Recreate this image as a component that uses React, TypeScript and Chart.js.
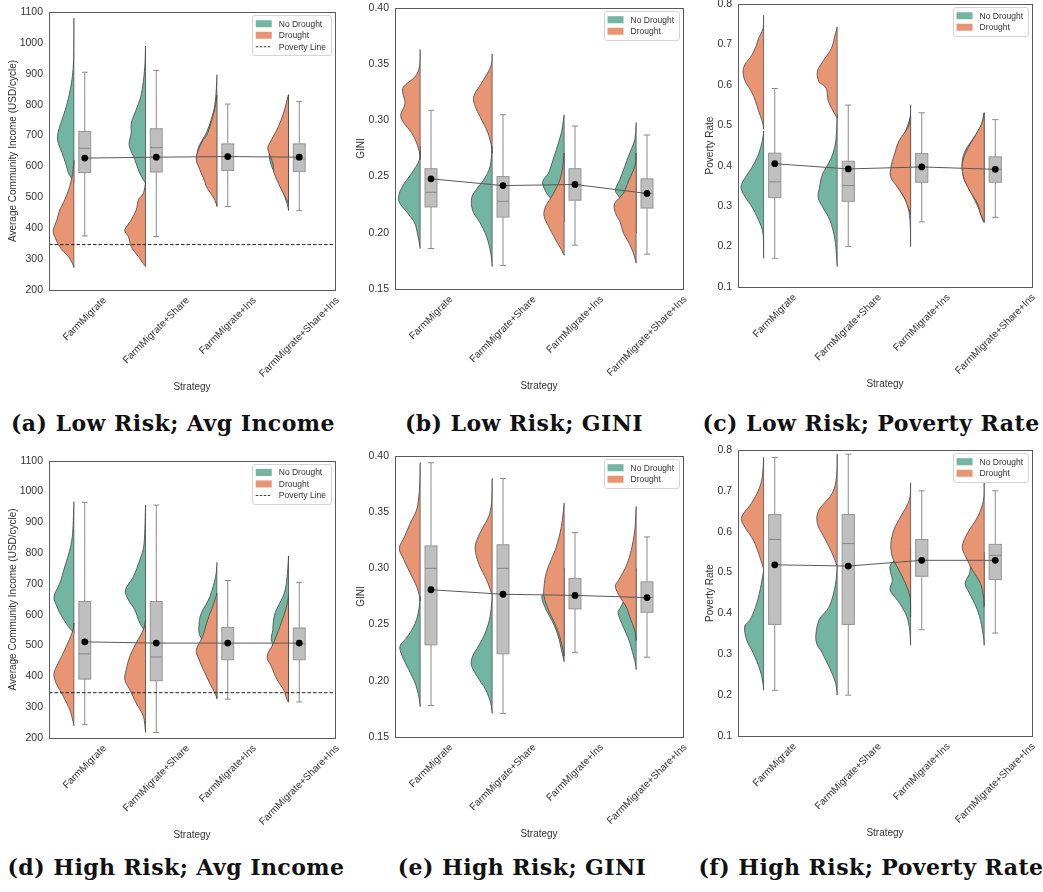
import React, { useEffect, useRef } from "react";
import { Chart, registerables } from "chart.js";

Chart.register(...registerables);

// ---------------- DATA ----------------
const strategies = ["FarmMigrate", "FarmMigrate+Share", "FarmMigrate+Ins", "FarmMigrate+Share+Ins"];
const legendLabels = ["No Drought", "Drought", "Poverty Line"];
const xTitle = "Strategy";
const povertyLine = 347;
const captions = [
  "(a) Low Risk; Avg Income",
  "(b) Low Risk; GINI",
  "(c) Low Risk; Poverty Rate",
  "(d) High Risk; Avg Income",
  "(e) High Risk; GINI",
  "(f) High Risk; Poverty Rate",
];

// Violin halves: [value, half-width in % of a category slot], top to bottom
const lowIncomeNoDrought = [
  [[1080, 0], [950, 0.5], [880, 3], [820, 8], [770, 14], [730, 20], [700, 23], [675, 22], [645, 17], [612, 12], [580, 8], [560, 3], [548, 0]],
  [[990, 0], [924, 1], [859, 4], [816, 8], [773, 15], [740, 20], [708, 20], [676, 23], [654, 21], [622, 15], [578, 8], [546, 0]],
  [[897, 0], [850, 1], [800, 3], [760, 7], [720, 13], [700, 17], [680, 22], [662, 26], [640, 28], [620, 28], [600, 25], [570, 20], [540, 14], [510, 6], [485, 1], [472, 0]],
  [[832, 0], [780, 5], [730, 13], [690, 21], [665, 26], [635, 27], [610, 25], [580, 20], [540, 12], [500, 5], [470, 1], [457, 0]],
];
const lowIncomeDrought = [
  [[620, 0], [578, 2], [535, 6], [492, 13], [459, 20], [427, 24], [394, 29], [373, 27], [340, 20], [308, 8], [285, 2], [272, 0]],
  [[548, 0], [513, 3], [492, 10], [459, 13], [427, 20], [394, 29], [373, 24], [340, 20], [308, 10], [285, 3], [276, 0]],
  [[830, 0], [800, 2], [762, 6], [708, 13], [687, 19], [665, 24], [640, 28], [621, 29], [600, 26], [578, 22], [550, 17], [535, 15], [503, 6], [485, 2], [470, 0]],
  [[832, 0], [816, 2], [773, 7], [730, 14], [686, 24], [662, 29], [643, 27], [611, 22], [578, 20], [535, 12], [503, 5], [481, 0]],
];
// Box stats: [whisker low, Q1, median, Q3, whisker high]
const lowIncomeBox = [[375, 580, 659, 713, 905], [373, 582, 661, 722, 911], [470, 587, 632, 673, 802], [457, 584, 624, 673, 810]];
const lowIncomeMean = [627, 630, 632, 630];

const lowGiniNoDrought = [
  [[0.277, 0], [0.265, 1], [0.253, 12], [0.243, 23], [0.235, 29], [0.227, 29], [0.218, 18], [0.209, 8], [0.2, 4], [0.19, 1], [0.186, 0]],
  [[0.277, 0], [0.259, 3], [0.247, 12], [0.235, 26], [0.227, 29], [0.218, 26], [0.209, 17], [0.197, 8], [0.182, 2], [0.17, 0]],
  [[0.305, 0], [0.289, 4], [0.274, 11], [0.262, 17], [0.253, 22], [0.245, 30], [0.235, 24], [0.228, 15], [0.22, 5], [0.21, 0]],
  [[0.298, 0], [0.283, 2], [0.271, 9], [0.259, 16], [0.247, 23], [0.238, 29], [0.232, 24], [0.22, 15], [0.21, 6], [0.2, 0]],
];
const lowGiniDrought = [
  [[0.363, 0], [0.348, 1], [0.339, 7], [0.33, 23], [0.324, 24], [0.315, 21], [0.305, 27], [0.298, 23], [0.289, 12], [0.28, 5], [0.271, 1], [0.265, 0]],
  [[0.359, 0], [0.348, 2], [0.333, 15], [0.324, 24], [0.318, 26], [0.31, 22], [0.301, 15], [0.289, 6], [0.277, 1], [0.271, 0]],
  [[0.271, 0], [0.259, 2], [0.247, 6], [0.235, 15], [0.223, 26], [0.215, 28], [0.206, 22], [0.194, 12], [0.185, 4], [0.18, 0]],
  [[0.271, 0], [0.259, 2], [0.247, 10], [0.235, 18], [0.226, 30], [0.218, 29], [0.209, 22], [0.2, 18], [0.191, 10], [0.182, 4], [0.173, 0]],
];
const lowGiniBox = [[0.186, 0.223, 0.236, 0.257, 0.309], [0.171, 0.214, 0.228, 0.25, 0.305], [0.189, 0.229, 0.243, 0.257, 0.295], [0.181, 0.222, 0.235, 0.248, 0.287]];
const lowGiniMean = [0.248, 0.242, 0.243, 0.235];

const lowPovertyNoDrought = [
  [[0.486, 0], [0.461, 2], [0.429, 7], [0.396, 16], [0.371, 25], [0.347, 31], [0.322, 25], [0.298, 16], [0.265, 7], [0.232, 1], [0.171, 0]],
  [[0.527, 0], [0.461, 2], [0.42, 8], [0.379, 20], [0.347, 24], [0.322, 26], [0.298, 20], [0.265, 10], [0.216, 3], [0.151, 0]],
  [[0.551, 0], [0.518, 1], [0.478, 9], [0.453, 17], [0.429, 21], [0.396, 26], [0.371, 25], [0.339, 15], [0.306, 5], [0.265, 1], [0.2, 0]],
  [[0.531, 0], [0.5, 4], [0.47, 14], [0.44, 25], [0.41, 30], [0.37, 28], [0.34, 20], [0.3, 9], [0.27, 3], [0.259, 0]],
];
const lowPovertyDrought = [
  [[0.772, 0], [0.739, 1], [0.715, 7], [0.698, 10], [0.674, 16], [0.649, 26], [0.629, 28], [0.608, 25], [0.584, 17], [0.559, 11], [0.535, 7], [0.51, 2], [0.49, 0]],
  [[0.743, 0], [0.723, 3], [0.69, 8], [0.657, 20], [0.633, 27], [0.608, 25], [0.592, 15], [0.559, 12], [0.527, 3], [0.518, 0]],
  [[0.523, 0], [0.494, 4], [0.461, 16], [0.429, 22], [0.396, 27], [0.371, 27], [0.347, 18], [0.322, 9], [0.298, 4], [0.281, 0]],
  [[0.531, 0], [0.502, 4], [0.469, 14], [0.437, 24], [0.404, 30], [0.371, 28], [0.339, 20], [0.306, 9], [0.281, 5], [0.261, 0]],
];
const lowPovertyBox = [[0.171, 0.321, 0.36, 0.431, 0.591], [0.2, 0.312, 0.351, 0.411, 0.55], [0.261, 0.359, 0.397, 0.43, 0.531], [0.272, 0.359, 0.391, 0.422, 0.514]];
const lowPovertyMean = [0.405, 0.392, 0.397, 0.391];

const highIncomeNoDrought = [
  [[967, 0], [864, 2], [810, 6], [756, 13], [702, 20], [659, 28], [627, 24], [594, 17], [562, 8], [546, 2], [540, 0]],
  [[956, 0], [832, 2], [778, 8], [724, 17], [681, 28], [648, 24], [616, 15], [573, 8], [545, 0]],
  [[770, 0], [724, 2], [659, 10], [605, 22], [573, 25], [540, 25], [513, 20], [480, 16], [440, 10], [400, 5], [350, 1], [330, 0]],
  [[791, 0], [724, 2], [670, 6], [616, 17], [584, 21], [551, 22], [519, 24], [480, 18], [440, 10], [400, 5], [350, 1], [320, 0]],
];
const highIncomeDrought = [
  [[573, 0], [540, 3], [486, 13], [443, 22], [411, 28], [378, 25], [335, 15], [292, 6], [259, 2], [240, 0]],
  [[584, 0], [551, 3], [508, 13], [465, 22], [422, 27], [389, 29], [357, 22], [313, 13], [270, 3], [218, 0]],
  [[670, 0], [627, 6], [584, 13], [530, 20], [486, 29], [454, 25], [411, 17], [368, 8], [335, 1], [326, 0]],
  [[659, 0], [616, 4], [562, 12], [508, 21], [465, 30], [432, 24], [389, 16], [357, 7], [324, 2], [316, 0]],
];
const highIncomeBox = [[243, 391, 473, 643, 965], [218, 386, 463, 643, 956], [326, 454, 505, 559, 711], [317, 454, 505, 557, 705]];
const highIncomeMean = [512, 508, 508, 508];

const highGiniNoDrought = [
  [[0.275, 0], [0.263, 2], [0.251, 7], [0.239, 18], [0.231, 28], [0.222, 25], [0.21, 16], [0.198, 7], [0.186, 2], [0.177, 0]],
  [[0.275, 0], [0.257, 3], [0.242, 10], [0.231, 19], [0.222, 27], [0.214, 29], [0.204, 21], [0.192, 9], [0.18, 2], [0.171, 0]],
  [[0.3, 0], [0.29, 5], [0.281, 20], [0.275, 31], [0.263, 25], [0.251, 15], [0.239, 8], [0.228, 4], [0.217, 0]],
  [[0.3, 0], [0.285, 5], [0.275, 14], [0.266, 21], [0.26, 25], [0.248, 18], [0.236, 10], [0.225, 5], [0.215, 1], [0.21, 0]],
];
const highGiniDrought = [
  [[0.394, 0], [0.376, 0.5], [0.364, 2], [0.352, 5], [0.34, 14], [0.328, 22], [0.318, 29], [0.308, 23], [0.296, 14], [0.284, 5], [0.275, 1], [0.271, 0]],
  [[0.38, 0], [0.358, 1], [0.346, 5], [0.334, 15], [0.322, 23], [0.314, 23], [0.303, 18], [0.29, 8], [0.278, 1], [0.275, 0]],
  [[0.358, 0], [0.337, 4], [0.319, 11], [0.308, 18], [0.296, 25], [0.284, 28], [0.275, 28], [0.263, 22], [0.251, 13], [0.239, 6], [0.228, 2], [0.222, 0]],
  [[0.355, 0], [0.334, 2], [0.316, 7], [0.302, 14], [0.29, 24], [0.284, 29], [0.275, 23], [0.266, 14], [0.257, 9], [0.245, 2], [0.236, 0]],
];
const highGiniBox = [[0.178, 0.232, 0.3, 0.32, 0.394], [0.171, 0.224, 0.3, 0.321, 0.38], [0.225, 0.264, 0.276, 0.291, 0.332], [0.221, 0.261, 0.274, 0.288, 0.328]];
const highGiniMean = [0.281, 0.277, 0.276, 0.274];

const highPovertyNoDrought = [
  [[0.506, 0], [0.457, 5], [0.416, 11], [0.383, 19], [0.367, 26], [0.334, 23], [0.302, 14], [0.261, 5], [0.228, 1], [0.212, 0]],
  [[0.514, 0], [0.465, 3], [0.416, 11], [0.383, 25], [0.334, 29], [0.302, 20], [0.261, 9], [0.228, 2], [0.2, 0]],
  [[0.56, 0], [0.54, 15], [0.52, 27], [0.505, 28], [0.481, 25], [0.457, 28], [0.432, 18], [0.4, 7], [0.367, 2], [0.322, 0]],
  [[0.55, 0], [0.53, 10], [0.515, 18], [0.498, 20], [0.473, 26], [0.449, 20], [0.416, 11], [0.383, 5], [0.342, 1], [0.322, 0]],
];
const highPovertyDrought = [
  [[0.782, 0], [0.734, 2], [0.702, 7], [0.669, 17], [0.636, 30], [0.612, 26], [0.579, 14], [0.547, 7], [0.514, 1], [0.506, 0]],
  [[0.79, 0], [0.734, 1], [0.693, 7], [0.653, 25], [0.62, 27], [0.587, 18], [0.555, 9], [0.53, 3], [0.514, 0]],
  [[0.72, 0], [0.677, 2], [0.636, 14], [0.604, 23], [0.571, 27], [0.538, 25], [0.506, 16], [0.473, 7], [0.44, 1], [0.391, 0]],
  [[0.72, 0], [0.677, 1], [0.636, 9], [0.596, 23], [0.563, 30], [0.538, 25], [0.506, 16], [0.473, 5], [0.44, 1], [0.416, 0]],
];
const highPovertyBox = [[0.212, 0.373, 0.581, 0.642, 0.782], [0.2, 0.373, 0.571, 0.642, 0.79], [0.36, 0.491, 0.53, 0.581, 0.7], [0.352, 0.483, 0.542, 0.569, 0.7]];
const highPovertyMean = [0.519, 0.516, 0.53, 0.53];

// ---------------- STYLE ----------------
const FONT = '"Liberation Sans", Arial, Helvetica, sans-serif';
const GREEN = "#72b5a0";
const ORANGE = "#e89574";
const TEXT = "#333333";
const VIOLIN_OFFSET = -0.15;
const BOX_HALF = 0.083;

type Curve = number[][];
interface PanelCfg {
  x0: number; y0: number; w: number; h: number;
  left: number; right: number; top: number; bottom: number;
  yMin: number; yMax: number; yStep: number; dec: number;
  yTitle: string; titleX: number;
  noDrought: Curve[]; drought: Curve[]; box: number[][]; mean: number[];
  poverty: number | null;
}

const cols = [
  { x0: 0, w: 345, left: 49, right: 335, titleX: 13 },
  { x0: 345, w: 347, left: 50, right: 338, titleX: 16 },
  { x0: 692, w: 351, left: 46, right: 340, titleX: 18 },
];
const rows = [
  { y0: 0, h: 400, tops: [12, 8, 2], bottoms: [290, 289, 287] },
  { y0: 440, h: 410, tops: [20.7, 16, 10], bottoms: [298, 297, 296] },
];
const metrics = [
  { yMin: 200, yMax: 1100, yStep: 100, dec: 0, yTitle: "Average Community Income (USD/cycle)" },
  { yMin: 0.15, yMax: 0.4, yStep: 0.05, dec: 2, yTitle: "GINI" },
  { yMin: 0.1, yMax: 0.8, yStep: 0.1, dec: 1, yTitle: "Poverty Rate" },
];
const series = [
  [
    [lowIncomeNoDrought, lowIncomeDrought, lowIncomeBox, lowIncomeMean],
    [lowGiniNoDrought, lowGiniDrought, lowGiniBox, lowGiniMean],
    [lowPovertyNoDrought, lowPovertyDrought, lowPovertyBox, lowPovertyMean],
  ],
  [
    [highIncomeNoDrought, highIncomeDrought, highIncomeBox, highIncomeMean],
    [highGiniNoDrought, highGiniDrought, highGiniBox, highGiniMean],
    [highPovertyNoDrought, highPovertyDrought, highPovertyBox, highPovertyMean],
  ],
];

const panels: PanelCfg[] = [];
rows.forEach((r, ri) => {
  cols.forEach((c, ci) => {
    const s = series[ri][ci] as any[];
    panels.push({
      x0: c.x0, y0: r.y0, w: c.w, h: r.h,
      left: c.left, right: c.right, top: r.tops[ci], bottom: r.bottoms[ci],
      ...metrics[ci], titleX: c.titleX,
      noDrought: s[0], drought: s[1], box: s[2], mean: s[3],
      poverty: ci === 0 ? povertyLine : null,
    });
  });
});

function smoothPath(ctx: CanvasRenderingContext2D, pts: number[][]) {
  ctx.moveTo(pts[0][0], pts[0][1]);
  for (let i = 0; i < pts.length - 1; i++) {
    const p0 = pts[i - 1] || pts[i];
    const p1 = pts[i];
    const p2 = pts[i + 1];
    const p3 = pts[i + 2] || pts[i + 1];
    const t = 1 / 6;
    ctx.bezierCurveTo(
      p1[0] + (p2[0] - p0[0]) * t, p1[1] + (p2[1] - p0[1]) * t,
      p2[0] - (p3[0] - p1[0]) * t, p2[1] - (p3[1] - p1[1]) * t,
      p2[0], p2[1]
    );
  }
}

function makePlugin(cfg: PanelCfg) {
  return {
    id: "violins",
    beforeDatasetsDraw(chart: any) {
      const { ctx, chartArea: ca } = chart;
      const xs = chart.scales.x;
      const ys = chart.scales.y;
      const slot = xs.getPixelForValue(1) - xs.getPixelForValue(0);
      ctx.save();
      ctx.beginPath();
      ctx.rect(ca.left, ca.top, ca.right - ca.left, ca.bottom - ca.top);
      ctx.clip();
      strategies.forEach((_, i) => {
        const base = xs.getPixelForValue(i + VIOLIN_OFFSET);
        [
          [cfg.noDrought[i], GREEN],
          [cfg.drought[i], ORANGE],
        ].forEach(([curve, color]: any) => {
          const pts = (curve as Curve).map(([v, wd]) => [base - (wd / 100) * slot, ys.getPixelForValue(v)]);
          ctx.save();
          ctx.beginPath();
          ctx.rect(ca.left, ca.top, base + 0.6 - ca.left, ca.bottom - ca.top);
          ctx.clip();
          ctx.beginPath();
          smoothPath(ctx, pts);
          ctx.lineTo(base, pts[0][1]);
          ctx.closePath();
          ctx.fillStyle = color;
          ctx.fill();
          ctx.lineWidth = 0.9;
          ctx.strokeStyle = "rgba(70,70,70,0.9)";
          ctx.stroke();
          ctx.restore();
        });
        // box
        const [lo, q1, med, q3, hi] = cfg.box[i];
        const cx = xs.getPixelForValue(i);
        const hw = BOX_HALF * slot;
        const cap = hw * 0.5;
        ctx.strokeStyle = "#8a8a8a";
        ctx.lineWidth = 1;
        ctx.beginPath();
        ctx.moveTo(cx, ys.getPixelForValue(hi));
        ctx.lineTo(cx, ys.getPixelForValue(q3));
        ctx.moveTo(cx, ys.getPixelForValue(q1));
        ctx.lineTo(cx, ys.getPixelForValue(lo));
        ctx.moveTo(cx - cap, ys.getPixelForValue(hi));
        ctx.lineTo(cx + cap, ys.getPixelForValue(hi));
        ctx.moveTo(cx - cap, ys.getPixelForValue(lo));
        ctx.lineTo(cx + cap, ys.getPixelForValue(lo));
        ctx.stroke();
        const yq3 = ys.getPixelForValue(q3);
        const yq1 = ys.getPixelForValue(q1);
        ctx.fillStyle = "#bfbfbf";
        ctx.fillRect(cx - hw, yq3, 2 * hw, yq1 - yq3);
        ctx.strokeStyle = "#959595";
        ctx.strokeRect(cx - hw, yq3, 2 * hw, yq1 - yq3);
        ctx.beginPath();
        ctx.moveTo(cx - hw, ys.getPixelForValue(med));
        ctx.lineTo(cx + hw, ys.getPixelForValue(med));
        ctx.strokeStyle = "#8a8a8a";
        ctx.stroke();
      });
      ctx.restore();
    },
    afterDraw(chart: any) {
      const { ctx, chartArea: ca } = chart;
      const xs = chart.scales.x;
      ctx.save();
      // frame
      ctx.strokeStyle = "#5a5a5a";
      ctx.lineWidth = 1;
      ctx.strokeRect(Math.round(ca.left) + 0.5, Math.round(ca.top) + 0.5, Math.round(ca.right - ca.left), Math.round(ca.bottom - ca.top));
      // x tick labels rotated 45 deg, centered under tick
      ctx.fillStyle = TEXT;
      ctx.font = `10px ${FONT}`;
      strategies.forEach((lab, i) => {
        const w = ctx.measureText(lab).width;
        const b = (w + 11) * Math.SQRT1_2;
        const cx = xs.getPixelForValue(i);
        const cy = ca.bottom + 5 + b / 2;
        ctx.save();
        ctx.translate(cx, cy);
        ctx.rotate(-Math.PI / 4);
        ctx.textAlign = "center";
        ctx.textBaseline = "middle";
        ctx.fillText(lab, 0, 0);
        ctx.restore();
      });
      // axis titles
      ctx.textAlign = "center";
      ctx.textBaseline = "middle";
      ctx.fillText(xTitle, (ca.left + ca.right) / 2, ca.bottom + 97);
      ctx.save();
      ctx.translate(cfg.titleX, (ca.top + ca.bottom) / 2);
      ctx.rotate(-Math.PI / 2);
      ctx.fillText(cfg.yTitle, 0, 0);
      ctx.restore();
      // legend
      const items: { label: string; color: string | null }[] = [
        { label: legendLabels[0], color: GREEN },
        { label: legendLabels[1], color: ORANGE },
      ];
      if (cfg.poverty !== null) items.push({ label: legendLabels[2], color: null });
      ctx.font = `8.5px ${FONT}`;
      const tw = Math.max(...items.map((it) => ctx.measureText(it.label).width));
      const rowH = 11.5;
      const bw = 4 + 16 + 7 + tw + 5;
      const bh = 3 + items.length * rowH + 2.5;
      const bx = ca.right - 4 - bw;
      const by = ca.top + 3;
      ctx.beginPath();
      ctx.roundRect(Math.round(bx) + 0.5, Math.round(by) + 0.5, Math.round(bw), Math.round(bh), 2.5);
      ctx.fillStyle = "rgba(255,255,255,0.85)";
      ctx.fill();
      ctx.strokeStyle = "#d5d5d5";
      ctx.lineWidth = 1;
      ctx.stroke();
      items.forEach((it, k) => {
        const yc = by + 3 + rowH * k + rowH / 2;
        if (it.color) {
          ctx.fillStyle = it.color;
          ctx.fillRect(bx + 4, yc - 3.5, 16, 7);
        } else {
          ctx.beginPath();
          ctx.setLineDash([2.5, 1.5]);
          ctx.moveTo(bx + 4, yc);
          ctx.lineTo(bx + 20, yc);
          ctx.strokeStyle = "#333";
          ctx.stroke();
          ctx.setLineDash([]);
        }
        ctx.fillStyle = TEXT;
        ctx.textAlign = "left";
        ctx.textBaseline = "middle";
        ctx.fillText(it.label, bx + 4 + 16 + 7, yc + 0.5);
      });
      ctx.restore();
    },
  };
}

function Panel({ cfg }: { cfg: PanelCfg }) {
  const ref = useRef<HTMLCanvasElement>(null);
  useEffect(() => {
    const canvas = ref.current;
    if (!canvas) return;
    const datasets: any[] = [
      {
        label: "mean",
        data: cfg.mean.map((m, i) => ({ x: i, y: m })),
        showLine: true,
        borderColor: "#5a5a5a",
        borderWidth: 1,
        pointRadius: 3.4,
        pointBackgroundColor: "#000",
        pointBorderColor: "#000",
        pointBorderWidth: 0,
        order: 1,
      },
    ];
    if (cfg.poverty !== null) {
      datasets.push({
        label: legendLabels[2],
        data: [{ x: -0.5, y: cfg.poverty }, { x: 3.5, y: cfg.poverty }],
        showLine: true,
        borderColor: "#222",
        borderWidth: 1,
        borderDash: [3.5, 2],
        pointRadius: 0,
        order: 2,
      });
    }
    const chart = new Chart(canvas, {
      type: "scatter",
      data: { datasets },
      options: {
        animation: false,
        responsive: false,
        devicePixelRatio: 1,
        layout: { padding: { top: cfg.top, right: cfg.w - cfg.right, left: 0, bottom: 0 } },
        plugins: { legend: { display: false }, tooltip: { enabled: false } },
        scales: {
          x: {
            type: "linear",
            min: -0.5,
            max: 3.5,
            grid: { display: false, drawTicks: false },
            border: { display: false },
            ticks: { display: false },
            afterFit: (s: any) => {
              s.height = cfg.h - cfg.bottom;
              s.paddingLeft = 0;
              s.paddingRight = 0;
            },
          },
          y: {
            type: "linear",
            min: cfg.yMin,
            max: cfg.yMax,
            grid: { display: false, drawTicks: false },
            border: { display: false },
            ticks: {
              stepSize: cfg.yStep,
              padding: 6,
              color: TEXT,
              font: { family: FONT, size: 10.5 },
              callback: (v: any) => Number(v).toFixed(cfg.dec),
            },
            afterFit: (s: any) => {
              s.width = cfg.left;
              s.paddingTop = 0;
              s.paddingBottom = 0;
            },
          },
        },
      } as any,
      plugins: [makePlugin(cfg)],
    });
    return () => chart.destroy();
  }, [cfg]);
  return (
    <canvas
      ref={ref}
      width={cfg.w}
      height={cfg.h}
      style={{ position: "absolute", left: cfg.x0, top: cfg.y0, width: cfg.w, height: cfg.h }}
    />
  );
}

const captionCenters = [
  { x: 173, y: 423 },
  { x: 524, y: 423 },
  { x: 871, y: 423 },
  { x: 176, y: 867 },
  { x: 522, y: 867 },
  { x: 871, y: 867 },
];

export default function App() {
  return (
    <div style={{ position: "absolute", left: 0, top: 0, width: 1043, height: 892, background: "#fff", overflow: "hidden" }}>
      {panels.map((p, i) => (
        <Panel key={i} cfg={p} />
      ))}
      {captions.map((c, i) => (
        <div
          key={"c" + i}
          style={{
            position: "absolute",
            left: captionCenters[i].x - 200,
            top: captionCenters[i].y - 15,
            width: 400,
            height: 30,
            lineHeight: "30px",
            textAlign: "center",
            fontFamily: '"DejaVu Serif", serif',
            fontWeight: "bold",
            fontSize: 22,
            letterSpacing: "0.45px",
            color: "#111",
            whiteSpace: "nowrap",
          }}
        >
          {c}
        </div>
      ))}
    </div>
  );
}
